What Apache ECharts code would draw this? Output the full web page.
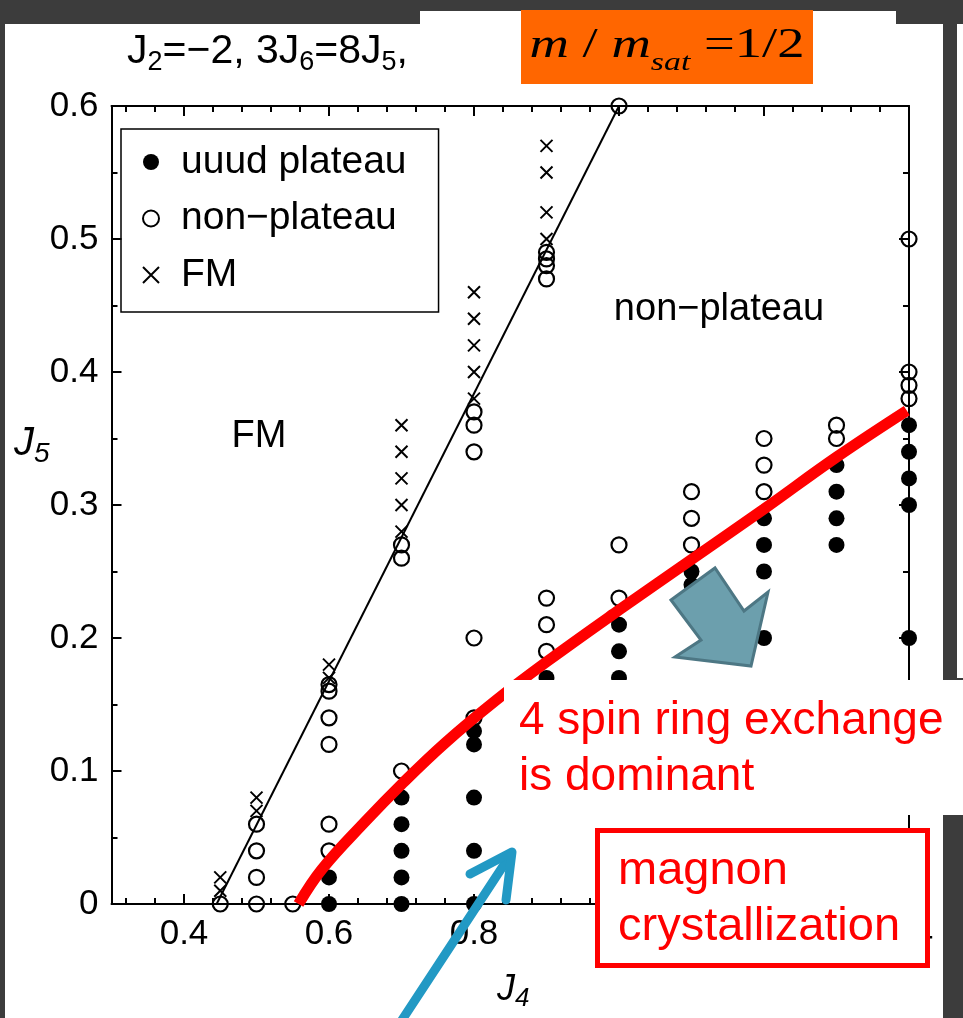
<!DOCTYPE html>
<html>
<head>
<meta charset="utf-8">
<script src="https://cdn.jsdelivr.net/npm/echarts@6/dist/echarts.min.js"></script>
<style>
  html, body { margin: 0; padding: 0; background: #3c3c3c; }
  #chart { width: 963px; height: 1018px; }
</style>
</head>
<body>
<div id="chart"></div>
<script>
// Phase diagram J4-J5 at m/msat = 1/2 (J2 = -2, 3J6 = 8J5)

// uuud plateau points [J4, J5]
const uuudPlateau = [
  [0.6, 0], [0.6, 0.02],
  [0.7, 0], [0.7, 0.02], [0.7, 0.04], [0.7, 0.06], [0.7, 0.08],
  [0.8, 0], [0.8, 0.04], [0.8, 0.08], [0.8, 0.12], [0.8, 0.13],
  [0.9, 0.17],
  [1.0, 0.17], [1.0, 0.19], [1.0, 0.21],
  [1.1, 0.24], [1.1, 0.25],
  [1.2, 0.20], [1.2, 0.25], [1.2, 0.27], [1.2, 0.29],
  [1.3, 0.27], [1.3, 0.29], [1.3, 0.31], [1.3, 0.33],
  [1.4, 0.20], [1.4, 0.30], [1.4, 0.32], [1.4, 0.34], [1.4, 0.36]
];

// non-plateau points [J4, J5]
const nonPlateau = [
  [0.45, 0],
  [0.5, 0], [0.5, 0.02], [0.5, 0.04], [0.5, 0.06],
  [0.55, 0],
  [0.6, 0.04], [0.6, 0.06], [0.6, 0.12], [0.6, 0.14], [0.6, 0.16], [0.6, 0.165],
  [0.7, 0.10], [0.7, 0.26], [0.7, 0.27],
  [0.8, 0.14], [0.8, 0.20], [0.8, 0.34], [0.8, 0.36], [0.8, 0.37],
  [0.9, 0.19], [0.9, 0.21], [0.9, 0.23], [0.9, 0.47], [0.9, 0.48], [0.9, 0.485], [0.9, 0.49],
  [1.0, 0.23], [1.0, 0.27], [1.0, 0.60],
  [1.1, 0.27], [1.1, 0.29], [1.1, 0.31],
  [1.2, 0.31], [1.2, 0.33], [1.2, 0.35],
  [1.3, 0.35], [1.3, 0.36],
  [1.4, 0.38], [1.4, 0.39], [1.4, 0.40], [1.4, 0.50]
];

// ferromagnetic points [J4, J5]
const ferroMagnetic = [
  [0.45, 0.01], [0.45, 0.02],
  [0.5, 0.07], [0.5, 0.08],
  [0.6, 0.17], [0.6, 0.18],
  [0.7, 0.28], [0.7, 0.30], [0.7, 0.32], [0.7, 0.34], [0.7, 0.36],
  [0.8, 0.38], [0.8, 0.40], [0.8, 0.42], [0.8, 0.44], [0.8, 0.46],
  [0.9, 0.50], [0.9, 0.52], [0.9, 0.55], [0.9, 0.57]
];

// FM / non-FM boundary
const fmBoundary = [[0.445, 0], [1.0, 0.6]];

// boundary of the region where the 4-spin ring exchange dominates
const ringExchangeBoundary = [
  [0.558, 0], [0.59, 0.026], [0.65, 0.062], [0.70, 0.090], [0.76, 0.121],
  [0.83, 0.153], [0.90, 0.182], [1.00, 0.221], [1.10, 0.259], [1.20, 0.297],
  [1.30, 0.336], [1.397, 0.371]
];

// axis ticks
const xMajorTicks = [0.4, 0.6, 0.8, 1.0, 1.2, 1.4];
const xMinorTicks = [0.32, 0.36, 0.44, 0.48, 0.52, 0.56, 0.64, 0.68, 0.72, 0.76,
  0.84, 0.88, 0.92, 0.96, 1.04, 1.08, 1.12, 1.16, 1.24, 1.28, 1.32, 1.36];

const SANS = '"Liberation Sans", Arial, sans-serif';
const SERIF = '"Liberation Serif", "Times New Roman", serif';
const CROSS = 'path://M0,0L10,10M10,0L0,10';

const X_MIN = 0.3, X_MAX = 1.4, Y_MIN = 0, Y_MAX = 0.6;

function xAxisDef(position, ticks, len, withLabels, withLine) {
  return {
    type: 'value', min: X_MIN, max: X_MAX, position: position,
    axisLine: { show: withLine, onZero: false, lineStyle: { color: '#000', width: 2 } },
    axisTick: { show: true, inside: true, length: len, customValues: ticks,
      lineStyle: { color: '#000', width: 2 } },
    axisLabel: withLabels ? {
      show: true, customValues: ticks, margin: 13,
      formatter: v => v.toFixed(1),
      fontSize: 35, fontFamily: SANS, color: '#000'
    } : { show: false },
    splitLine: { show: false }
  };
}

function yAxisDef(position, withLabels) {
  return {
    type: 'value', min: Y_MIN, max: Y_MAX, interval: 0.1, position: position,
    axisLine: { show: true, onZero: false, lineStyle: { color: '#000', width: 2 } },
    axisTick: { show: true, inside: true, length: 10, lineStyle: { color: '#000', width: 2 } },
    minorTick: { show: true, splitNumber: 2, length: 6, lineStyle: { color: '#000', width: 2 } },
    axisLabel: withLabels ? {
      show: true, margin: 13,
      formatter: v => (v === 0 ? '0' : v.toFixed(1)),
      fontSize: 35, fontFamily: SANS, color: '#000'
    } : { show: false },
    splitLine: { show: false },
    minorSplitLine: { show: false }
  };
}

const chart = echarts.init(document.getElementById('chart'), null, { renderer: 'canvas' });

chart.setOption({
  animation: false,
  backgroundColor: 'transparent',
  grid: { left: 111.5, right: 54, top: 106, bottom: 114, containLabel: false, outerBoundsMode: 'none' },
  xAxis: [
    xAxisDef('bottom', xMajorTicks, 10, true, true),
    xAxisDef('bottom', xMinorTicks, 6, false, false),
    xAxisDef('top', xMajorTicks, 10, false, true),
    xAxisDef('top', xMinorTicks, 6, false, false)
  ],
  yAxis: [
    yAxisDef('left', true),
    yAxisDef('right', false)
  ],
  legend: {
    orient: 'vertical', left: 121, top: 129,
    padding: [13.5, 32, 17.5, 21],
    itemGap: 17.5, itemWidth: 16, itemHeight: 16,
    borderColor: '#000', borderWidth: 1.5,
    selectedMode: false,
    textStyle: { fontSize: 39, fontFamily: SANS, color: '#000', padding: [0, 0, 0, 17] },
    data: ['uuud plateau', 'non\u2212plateau', 'FM']
  },
  series: [
    {
      name: 'uuud plateau', type: 'scatter', data: uuudPlateau,
      symbol: 'circle', symbolSize: 16, clip: false, z: 3,
      itemStyle: { color: '#000', opacity: 1 }, emphasis: { disabled: true }
    },
    {
      name: 'non\u2212plateau', type: 'scatter', data: nonPlateau,
      symbol: 'circle', symbolSize: 15, clip: false, z: 3,
      itemStyle: { color: 'rgba(0,0,0,0)', borderColor: '#000', borderWidth: 2.2, opacity: 1 },
      emphasis: { disabled: true }
    },
    {
      name: 'FM', type: 'scatter', data: ferroMagnetic,
      symbol: CROSS, symbolSize: 12, clip: false, z: 3,
      itemStyle: { color: 'rgba(0,0,0,0)', borderColor: '#000', borderWidth: 2, opacity: 1 },
      emphasis: { disabled: true }
    },
    {
      type: 'line', data: fmBoundary, symbol: 'none', silent: true, z: 2,
      lineStyle: { color: '#000', width: 2 }
    },
    {
      type: 'line', data: ringExchangeBoundary, symbol: 'none', silent: true, z: 5,
      smooth: 0.4,
      lineStyle: { color: '#ff0000', width: 11, cap: 'butt' }
    }
  ],
  graphic: [
    // page panels
    { type: 'rect', z: -100, shape: { x: 5, y: 24, width: 938, height: 994 }, style: { fill: '#fff' } },
    { type: 'rect', z: -100, shape: { x: 420, y: 11, width: 476, height: 14 }, style: { fill: '#fff' } },
    { type: 'rect', z: -100, shape: { x: 957, y: 24, width: 6, height: 654 }, style: { fill: '#fff' } },

    // parameter line
    {
      type: 'text', z: 50, x: 127, y: 28,
      style: {
        text: 'J{s|2}=\u22122, 3J{s|6}=8J{s|5},',
        fontSize: 41, fontFamily: SANS, fill: '#000', lineHeight: 48,
        align: 'left', verticalAlign: 'top',
        rich: { s: { fontSize: 27, fontFamily: SANS, fill: '#000', lineHeight: 27, verticalAlign: 'bottom' } }
      }
    },

    // magnetization badge
    { type: 'rect', z: 50, shape: { x: 521, y: 10, width: 292, height: 74 }, style: { fill: '#ff6600' } },
    {
      type: 'text', z: 51, x: 667, y: 16, scaleX: 1.3,
      style: {
        text: '{i|m}{u| / }{i|m}{s|sat}{u| =1/2}',
        align: 'center', verticalAlign: 'top', lineHeight: 60,
        rich: {
          i: { fontSize: 42, fontFamily: SERIF, fontStyle: 'italic', fill: '#000', lineHeight: 60 },
          u: { fontSize: 42, fontFamily: SERIF, fill: '#000', lineHeight: 60 },
          s: { fontSize: 26, fontFamily: SERIF, fontStyle: 'italic', fill: '#000', lineHeight: 26, verticalAlign: 'bottom' }
        }
      }
    },

    // region labels
    { type: 'text', z: 50, x: 259, y: 437,
      style: { text: 'FM', fontSize: 38, fontFamily: SANS, fill: '#000', align: 'center', verticalAlign: 'middle' } },
    { type: 'text', z: 50, x: 719, y: 310,
      style: { text: 'non\u2212plateau', fontSize: 38, fontFamily: SANS, fill: '#000', align: 'center', verticalAlign: 'middle' } },

    // axis names
    {
      type: 'text', z: 50, x: 14, y: 420,
      style: {
        text: 'J{s|5}', fontSize: 40, fontFamily: SANS, fontStyle: 'italic', fill: '#000',
        lineHeight: 48, align: 'left', verticalAlign: 'top',
        rich: { s: { fontSize: 28, fontFamily: SANS, fontStyle: 'italic', fill: '#000', lineHeight: 28, verticalAlign: 'bottom' } }
      }
    },
    {
      type: 'text', z: 50, x: 497, y: 968,
      style: {
        text: 'J{s|4}', fontSize: 36, fontFamily: SANS, fontStyle: 'italic', fill: '#000',
        lineHeight: 44, align: 'left', verticalAlign: 'top',
        rich: { s: { fontSize: 26, fontFamily: SANS, fontStyle: 'italic', fill: '#000', lineHeight: 26, verticalAlign: 'bottom' } }
      }
    },

    // block arrow pointing into the plateau region
    {
      type: 'polygon', z: 60,
      shape: { points: [[671, 600], [715, 568], [744, 611], [768, 592], [751, 666], [675, 657], [701, 640]] },
      style: { fill: '#6c9fad', stroke: '#4d7784', lineWidth: 3, lineJoin: 'miter' }
    },

    // "4 spin ring exchange is dominant" card
    { type: 'rect', z: 100, shape: { x: 504, y: 680, width: 459, height: 135 }, style: { fill: '#fff' } },
    { type: 'text', z: 101, x: 519, y: 721,
      style: { text: '4 spin ring exchange', fontSize: 46, fontFamily: SANS, fill: '#ff0000', align: 'left', verticalAlign: 'middle' } },
    { type: 'text', z: 101, x: 519, y: 777,
      style: { text: 'is dominant', fontSize: 46, fontFamily: SANS, fill: '#ff0000', align: 'left', verticalAlign: 'middle' } },

    // "magnon crystallization" card
    { type: 'rect', z: 100, shape: { x: 597.5, y: 830.5, width: 330, height: 135 },
      style: { fill: '#fff', stroke: '#ff0000', lineWidth: 5 } },
    { type: 'text', z: 101, x: 618, y: 871,
      style: { text: 'magnon', fontSize: 47, fontFamily: SANS, fill: '#ff0000', align: 'left', verticalAlign: 'middle' } },
    { type: 'text', z: 101, x: 618, y: 927,
      style: { text: 'crystallization', fontSize: 47, fontFamily: SANS, fill: '#ff0000', align: 'left', verticalAlign: 'middle' } },

    // pointer arrow from the card below
    { type: 'polyline', z: 110, shape: { points: [[402, 1020], [511, 854]] },
      style: { stroke: '#2299c4', lineWidth: 9, lineCap: 'round', fill: null } },
    { type: 'polyline', z: 110, shape: { points: [[470, 874], [512, 852], [506, 900]] },
      style: { stroke: '#2299c4', lineWidth: 9, lineCap: 'round', lineJoin: 'round', fill: null } }
  ]
});
</script>
</body>
</html>
